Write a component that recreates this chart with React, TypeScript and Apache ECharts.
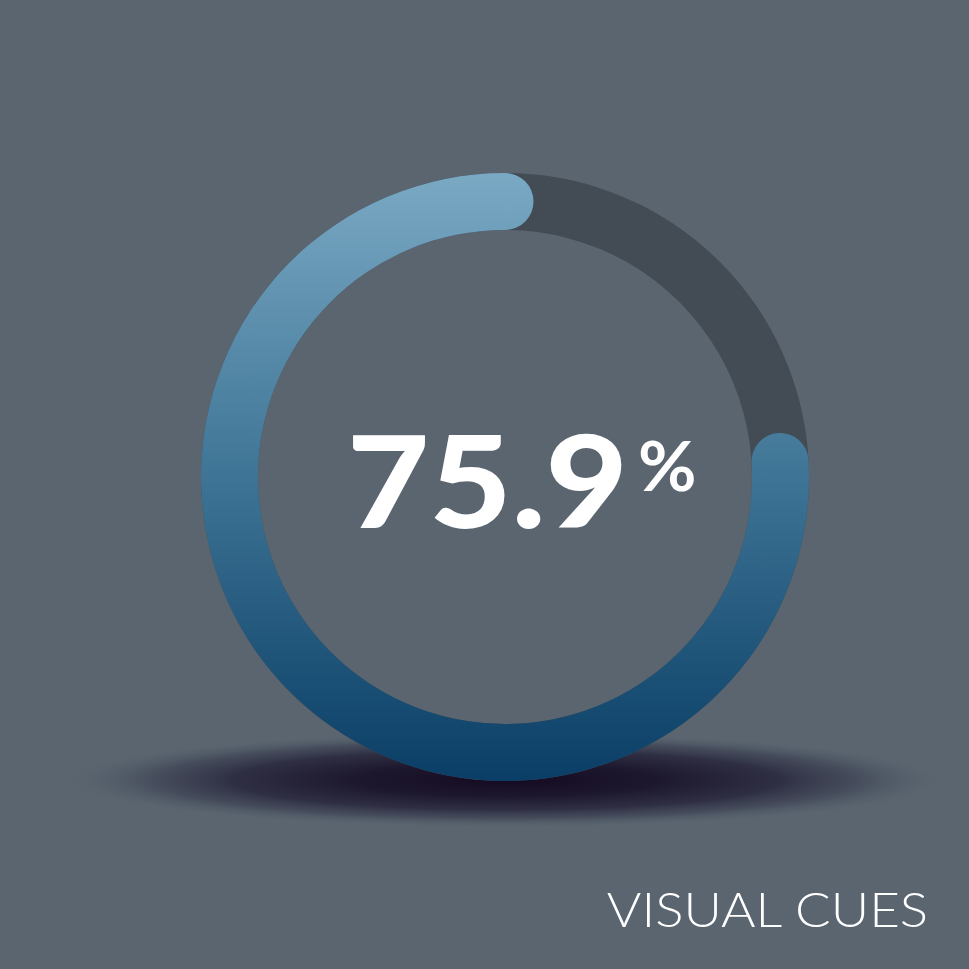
import React, { useEffect, useRef } from "react";
import * as echarts from "echarts";

const progressValues: number[] = [75.9];
const axisRange: number[] = [0, 100];
const captionTexts: string[] = ["VISUAL CUES"];
const unitLabels: string[] = ["%"];

export default function App() {
  const ref = useRef<HTMLDivElement | null>(null);
  useEffect(() => {
    if (!ref.current) return;
    const chart = echarts.init(ref.current, undefined, { renderer: "svg" });
    const value = progressValues[0];
    chart.setOption({
      animation: false,
      backgroundColor: "#5a6570",
      graphic: [
        {
          type: "circle",
          z: 0,
          x: 506,
          y: 780,
          scaleY: 48 / 440,
          shape: { cx: 0, cy: 0, r: 440 },
          style: {
            fill: new echarts.graphic.RadialGradient(0.5, 0.5, 0.5, [
              { offset: 0, color: "rgba(20,10,34,1)" },
              { offset: 0.35, color: "rgba(26,20,42,0.95)" },
              { offset: 0.62, color: "rgba(36,33,56,0.8)" },
              { offset: 0.8, color: "rgba(50,52,72,0.5)" },
              { offset: 0.92, color: "rgba(70,78,92,0.2)" },
              { offset: 1, color: "rgba(90,101,112,0)" },
            ]),
          },
          silent: true,
        },
        {
          type: "text",
          z: 100,
          x: 628,
          y: 543,
          scaleX: 1.11,
          style: {
            text: String(value),
            fill: "#ffffff",
            font: "900 128px Lato, 'Open Sans', sans-serif",
            textAlign: "right",
            textVerticalAlign: "bottom",
          },
        },
        {
          type: "text",
          z: 100,
          x: 638,
          y: 431,
          scaleX: 1.05,
          style: {
            text: unitLabels[0],
            fill: "#ffffff",
            font: "700 68px Lato, 'Open Sans', sans-serif",
            textAlign: "left",
            textVerticalAlign: "top",
          },
        },
        {
          type: "text",
          z: 100,
          x: 928,
          y: 932,
          scaleX: 1.1,
          style: {
            text: captionTexts[0],
            fill: "#ffffff",
            font: "300 48px Lato, 'Open Sans', sans-serif",
            textAlign: "right",
            textVerticalAlign: "bottom",
          },
        },
      ],
      series: [
        {
          type: "gauge",
          z: 5,
          center: [505, 477],
          radius: 304,
          startAngle: 90,
          endAngle: 450,
          clockwise: false,
          min: axisRange[0],
          max: axisRange[1],
          axisLine: {
            lineStyle: { width: 57, color: [[1, "#434b54"]] },
          },
          progress: {
            show: true,
            width: 57,
            roundCap: true,
            itemStyle: {
              color: new echarts.graphic.LinearGradient(0, 0, 0, 1, [
                { offset: 0, color: "#7aa9c4" },
                { offset: 0.5, color: "#3e7495" },
                { offset: 1, color: "#0a3e66" },
              ]),
            },
          },
          splitLine: { show: false },
          axisTick: { show: false },
          axisLabel: { show: false },
          pointer: { show: false },
          anchor: { show: false },
          title: { show: false },
          detail: { show: false },
          data: [{ value }],
        },
      ],
    });
    return () => chart.dispose();
  }, []);
  return (
    <div
      ref={ref}
      style={{ position: "fixed", left: 0, top: 0, width: "969px", height: "969px" }}
    />
  );
}
